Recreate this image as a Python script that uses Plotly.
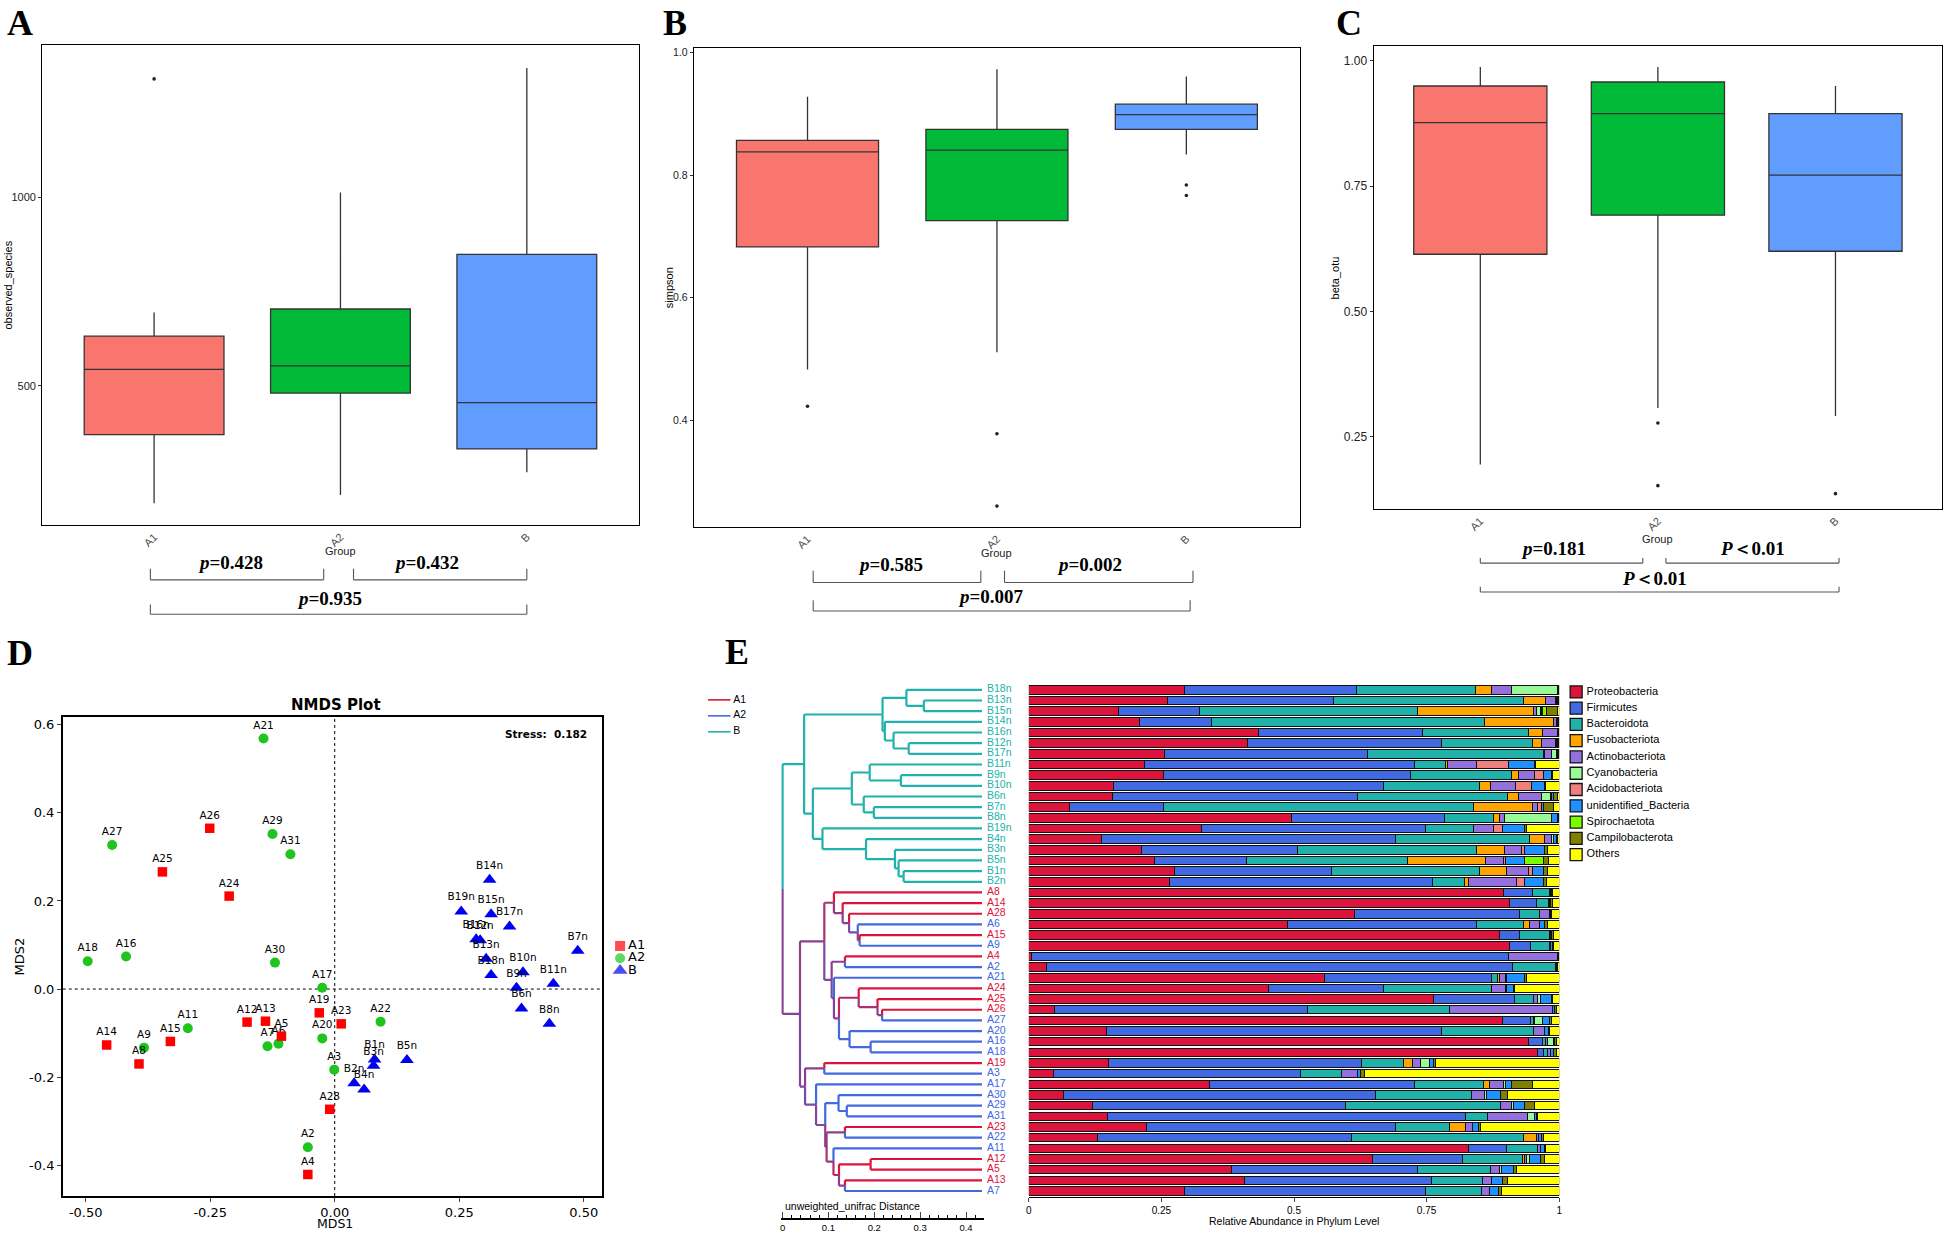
import plotly.graph_objects as go

W, H = 1951, 1233

# ---------------- A / B / C : alpha & beta diversity boxplots ----------------
groups = ["A1", "A2", "B"]
group_fill = ["#F8766D", "#00BA38", "#619CFF"]

obs_q1 = [371, 481, 333]
obs_median = [544, 553, 456]
obs_q3 = [632, 704, 849]
obs_low = [189, 211, 271]
obs_high = [695, 1013, 1343]
obs_out_x = ["A1"]
obs_out_y = [1314]
obs_p = ["p=0.428", "p=0.432", "p=0.935"]

simp_q1 = [0.683, 0.726, 0.875]
simp_median = [0.838, 0.841, 0.899]
simp_q3 = [0.857, 0.875, 0.916]
simp_low = [0.483, 0.511, 0.834]
simp_high = [0.928, 0.973, 0.961]
simp_out_x = ["A1", "A2", "A2", "B", "B"]
simp_out_y = [0.423, 0.378, 0.260, 0.784, 0.767]
simp_p = ["p=0.585", "p=0.002", "p=0.007"]

beta_q1 = [0.614, 0.692, 0.620]
beta_median = [0.877, 0.895, 0.772]
beta_q3 = [0.950, 0.958, 0.895]
beta_low = [0.194, 0.307, 0.291]
beta_high = [0.988, 0.988, 0.950]
beta_out_x = ["A2", "A2", "B"]
beta_out_y = [0.277, 0.152, 0.136]
beta_p = ["p=0.181", "P\uff1c0.01", "P\uff1c0.01"]

# ---------------- D : NMDS ----------------
a1_names = ["A4", "A5", "A8", "A12", "A13", "A14", "A15", "A19", "A23", "A24", "A25", "A26", "A28"]
a1_mds1 = [-0.054, -0.107, -0.393, -0.176, -0.139, -0.458, -0.330, -0.031, 0.013, -0.212, -0.346, -0.251, -0.010]
a1_mds2 = [-0.421, -0.107, -0.170, -0.075, -0.073, -0.127, -0.119, -0.054, -0.079, 0.211, 0.266, 0.365, -0.273]

a2_names = ["A2", "A3", "A6", "A7", "A9", "A11", "A16", "A17", "A18", "A20", "A21", "A22", "A27", "A29", "A30", "A31"]
a2_mds1 = [-0.054, -0.001, -0.113, -0.135, -0.383, -0.295, -0.419, -0.025, -0.496, -0.025, -0.143, 0.092, -0.447, -0.125, -0.120, -0.089]
a2_mds2 = [-0.359, -0.183, -0.124, -0.130, -0.133, -0.089, 0.074, 0.003, 0.063, -0.112, 0.569, -0.074, 0.327, 0.352, 0.060, 0.306]

b_names = ["B1n", "B2n", "B3n", "B4n", "B5n", "B6n", "B7n", "B8n", "B9n", "B10n",
           "B11n", "B12n", "B13n", "B14n", "B15n", "B16n", "B17n", "B18n", "B19n"]
b_mds1 = [0.080, 0.039, 0.078, 0.059, 0.145, 0.375, 0.488, 0.431, 0.365, 0.378,
          0.439, 0.292, 0.304, 0.311, 0.314, 0.284, 0.351, 0.314, 0.254]
b_mds2 = [-0.160, -0.214, -0.174, -0.228, -0.161, -0.044, 0.087, -0.079, 0.003, 0.038,
          0.012, 0.111, 0.069, 0.248, 0.170, 0.113, 0.142, 0.032, 0.176]

# ---------------- E : UPGMA tree + phylum barplot ----------------
sample_order = ["B18n", "B13n", "B15n", "B14n", "B16n", "B12n", "B17n", "B11n", "B9n", "B10n",
                "B6n", "B7n", "B8n", "B19n", "B4n", "B3n", "B5n", "B1n", "B2n",
                "A8", "A14", "A28", "A6", "A15", "A9", "A4", "A2", "A21", "A24", "A25", "A26",
                "A27", "A20", "A16", "A18", "A19", "A3", "A17", "A30", "A29", "A31", "A23",
                "A22", "A11", "A12", "A5", "A13", "A7"]

# (merge distance, upper child, lower child)
tree = (0.0,
        (0.047,
         (0.218,
          (0.270, "B18n", (0.308, "B13n", "B15n")),
          (0.223, "B14n", (0.242, "B16n", (0.275, "B12n", "B17n")))),
         (0.066,
          (0.151,
           (0.190, "B11n", (0.258, "B9n", "B10n")),
           (0.177, "B6n", (0.199, "B7n", "B8n"))),
          (0.087, "B19n", (0.182, "B4n", (0.245, "B3n", (0.253, "B5n", (0.264, "B1n", "B2n"))))))),
        (0.038,
         (0.091,
          (0.112, "A8", (0.131, "A14", (0.145, "A28", (0.164, "A6", (0.168, "A15", "A9"))))),
          (0.107, (0.136, "A4", "A2"),
           (0.112, "A21", (0.123, (0.166, "A24", (0.207, "A25", (0.217, "A26", "A27"))),
                           (0.146, "A20", (0.192, "A16", "A18")))))),
         (0.049,
          (0.091, "A19", "A3"),
          (0.073, "A17", (0.093, (0.122, "A30", (0.140, "A29", "A31")),
                          (0.096, (0.136, "A23", "A22"),
                           (0.111, "A11", (0.123, (0.192, "A12", "A5"), (0.136, "A13", "A7")))))))))
leaf_depth = 0.438

phyla = ["Proteobacteria", "Firmicutes", "Bacteroidota", "Fusobacteriota", "Actinobacteriota",
         "Cyanobacteria", "Acidobacteriota", "unidentified_Bacteria", "Spirochaetota",
         "Campilobacterota", "Others"]
phylum_colors = ["#DC143C", "#4169E1", "#20B2AA", "#FFA500", "#9370DB", "#98FB98",
                 "#F08080", "#1E90FF", "#7CFC00", "#808000", "#FFFF00"]

proteobacteria = [0.293, 0.261, 0.169, 0.208, 0.433, 0.413, 0.256, 0.219, 0.253, 0.160, 0.157, 0.076,
                  0.495, 0.325, 0.137, 0.213, 0.236, 0.274, 0.265, 0.895, 0.906, 0.614, 0.488, 0.888,
                  0.906, 0.005, 0.033, 0.557, 0.451, 0.763, 0.049, 0.893, 0.147, 0.943, 0.959, 0.150,
                  0.046, 0.341, 0.066, 0.120, 0.148, 0.221, 0.130, 0.829, 0.648, 0.382, 0.406, 0.294]
firmicutes = [0.325, 0.313, 0.152, 0.136, 0.310, 0.365, 0.382, 0.509, 0.466, 0.509, 0.462, 0.178,
              0.288, 0.422, 0.554, 0.294, 0.174, 0.297, 0.496, 0.054, 0.051, 0.311, 0.357, 0.038,
              0.039, 0.899, 0.879, 0.316, 0.218, 0.152, 0.476, 0.052, 0.632, 0.026, 0.011, 0.478,
              0.466, 0.387, 0.587, 0.478, 0.676, 0.471, 0.478, 0.072, 0.170, 0.350, 0.354, 0.453]
bacteroidota = [0.224, 0.359, 0.411, 0.515, 0.200, 0.171, 0.332, 0.058, 0.191, 0.181, 0.283, 0.584,
                0.093, 0.092, 0.253, 0.337, 0.304, 0.279, 0.060, 0.032, 0.023, 0.037, 0.087, 0.056,
                0.036, 0.000, 0.081, 0.011, 0.204, 0.036, 0.268, 0.007, 0.172, 0.005, 0.008, 0.078,
                0.078, 0.129, 0.181, 0.292, 0.041, 0.101, 0.324, 0.059, 0.112, 0.139, 0.095, 0.106]
fusobacteriota = [0.031, 0.041, 0.219, 0.131, 0.026, 0.018, 0.003, 0.004, 0.013, 0.020, 0.021, 0.111,
                  0.012, 0.000, 0.028, 0.052, 0.147, 0.051, 0.008, 0.000, 0.000, 0.000, 0.012, 0.000,
                  0.000, 0.000, 0.000, 0.003, 0.000, 0.000, 0.000, 0.000, 0.000, 0.000, 0.000, 0.017,
                  0.000, 0.011, 0.000, 0.000, 0.000, 0.031, 0.026, 0.000, 0.005, 0.000, 0.000, 0.000]
actinobacteriota = [0.038, 0.019, 0.007, 0.004, 0.027, 0.026, 0.012, 0.055, 0.030, 0.047, 0.044, 0.010,
                    0.008, 0.038, 0.013, 0.032, 0.034, 0.042, 0.091, 0.002, 0.001, 0.019, 0.019, 0.002,
                    0.003, 0.092, 0.002, 0.011, 0.025, 0.009, 0.194, 0.002, 0.022, 0.003, 0.006, 0.016,
                    0.030, 0.027, 0.025, 0.021, 0.075, 0.012, 0.003, 0.005, 0.004, 0.017, 0.018, 0.015]
cyanobacteria = [0.085, 0.002, 0.006, 0.001, 0.001, 0.001, 0.010, 0.000, 0.000, 0.000, 0.017, 0.001,
                 0.089, 0.000, 0.004, 0.000, 0.000, 0.000, 0.000, 0.000, 0.000, 0.000, 0.000, 0.000,
                 0.000, 0.000, 0.000, 0.000, 0.002, 0.004, 0.000, 0.014, 0.000, 0.012, 0.000, 0.016,
                 0.000, 0.003, 0.003, 0.003, 0.014, 0.000, 0.000, 0.000, 0.005, 0.004, 0.000, 0.000]
acidobacteriota = [0.001, 0.001, 0.002, 0.001, 0.001, 0.001, 0.001, 0.059, 0.017, 0.031, 0.001, 0.006,
                   0.000, 0.016, 0.001, 0.006, 0.003, 0.006, 0.015, 0.000, 0.000, 0.000, 0.000, 0.000,
                   0.000, 0.000, 0.000, 0.002, 0.000, 0.000, 0.000, 0.000, 0.000, 0.000, 0.000, 0.000,
                   0.000, 0.000, 0.000, 0.000, 0.000, 0.000, 0.000, 0.000, 0.000, 0.000, 0.000, 0.000]
unidentified_bacteria = [0.001, 0.001, 0.002, 0.001, 0.001, 0.002, 0.001, 0.049, 0.015, 0.024, 0.005, 0.004,
                         0.011, 0.041, 0.004, 0.038, 0.037, 0.022, 0.036, 0.002, 0.003, 0.002, 0.009, 0.002,
                         0.003, 0.001, 0.001, 0.035, 0.013, 0.022, 0.005, 0.014, 0.006, 0.003, 0.005, 0.008,
                         0.006, 0.013, 0.028, 0.020, 0.004, 0.011, 0.005, 0.007, 0.021, 0.021, 0.021, 0.017]
spirochaetota = [0.000, 0.000, 0.008, 0.000, 0.000, 0.000, 0.000, 0.000, 0.000, 0.000, 0.000, 0.000,
                 0.000, 0.000, 0.000, 0.000, 0.036, 0.000, 0.000, 0.000, 0.000, 0.000, 0.000, 0.000,
                 0.000, 0.000, 0.000, 0.000, 0.000, 0.000, 0.000, 0.000, 0.000, 0.000, 0.000, 0.000,
                 0.000, 0.000, 0.000, 0.000, 0.000, 0.000, 0.000, 0.000, 0.000, 0.000, 0.000, 0.000]
campilobacterota = [0.001, 0.001, 0.020, 0.001, 0.000, 0.001, 0.001, 0.002, 0.002, 0.002, 0.006, 0.020,
                    0.002, 0.004, 0.003, 0.006, 0.008, 0.006, 0.005, 0.002, 0.004, 0.002, 0.005, 0.003,
                    0.003, 0.001, 0.001, 0.003, 0.002, 0.002, 0.002, 0.003, 0.003, 0.002, 0.005, 0.004,
                    0.006, 0.038, 0.012, 0.019, 0.002, 0.005, 0.004, 0.003, 0.008, 0.006, 0.008, 0.006]
others = [0.001, 0.002, 0.004, 0.002, 0.001, 0.002, 0.002, 0.045, 0.013, 0.026, 0.004, 0.010,
          0.002, 0.062, 0.003, 0.022, 0.021, 0.023, 0.024, 0.013, 0.012, 0.015, 0.023, 0.011,
          0.010, 0.002, 0.003, 0.062, 0.085, 0.012, 0.006, 0.015, 0.018, 0.006, 0.006, 0.233,
          0.368, 0.051, 0.098, 0.047, 0.040, 0.148, 0.030, 0.025, 0.027, 0.081, 0.098, 0.109]
abundance = [proteobacteria, firmicutes, bacteroidota, fusobacteriota, actinobacteriota, cyanobacteria,
             acidobacteriota, unidentified_bacteria, spirochaetota, campilobacterota, others]

tree_rgb = {"A1": (220, 20, 60), "A2": (65, 105, 225), "B": (32, 178, 170)}


# ---------------- helpers ----------------
def fx(p):
    return p / W


def fy(p):
    return 1 - p / H


def ax(n):
    return ("x" if n == 1 else "x%d" % n), ("y" if n == 1 else "y%d" % n)


def axkey(n):
    return ("xaxis" if n == 1 else "xaxis%d" % n), ("yaxis" if n == 1 else "yaxis%d" % n)


fig = go.Figure()
axes = {}
annotations = []
shapes = []
SANS = "Liberation Sans"
SERIF = "Liberation Serif"
DJ = "DejaVu Sans"


def note(text, x, y, size, family=SANS, xanchor="center", angle=0, color="black", xref="paper", yref="paper"):
    annotations.append(dict(text=text, x=fx(x) if xref == "paper" else x, y=fy(y) if yref == "paper" else y,
                            xref=xref, yref=yref, showarrow=False, xanchor=xanchor, yanchor="middle",
                            textangle=angle, font=dict(family=family, size=size, color=color)))


# ---------------- panels A, B, C ----------------
box_panels = [
    dict(n=1, q1=obs_q1, med=obs_median, q3=obs_q3, lo=obs_low, hi=obs_high, ox=obs_out_x, oy=obs_out_y,
         pv=obs_p, title="observed_species", rng=[131, 1404], ticks=[500, 1000], ticktext=["500", "1000"],
         box=(39.4, 637.6, 43, 524), tsize=11, ytitle_x=5.5, group_y=549.6, letter=("A", 2),
         rows=(561.6, 567.6, 578.8, 597.4, 603.4, 613.3),
         brackets=[(-0.02, 0.91), (1.07, 2.0), (-0.02, 2.0)], ptext_x=[0.41, 1.46, 0.94]),
    dict(n=2, q1=simp_q1, med=simp_median, q3=simp_q3, lo=simp_low, hi=simp_high, ox=simp_out_x, oy=simp_out_y,
         pv=simp_p, title="simpson", rng=[0.2256, 1.0078], ticks=[0.4, 0.6, 0.8, 1.0],
         ticktext=["0.4", "0.6", "0.8", "1.0"],
         box=(693, 1301, 46, 526), tsize=10.5, ytitle_x=667.7, group_y=551.7, letter=("B", 660),
         rows=(563.6, 569.6, 581.4, 595.3, 599.3, 610),
         brackets=[(0.03, 0.915), (1.04, 2.035), (0.03, 2.02)], ptext_x=[0.44, 1.49, 0.97]),
    dict(n=3, q1=beta_q1, med=beta_median, q3=beta_q3, lo=beta_low, hi=beta_high, ox=beta_out_x, oy=beta_out_y,
         pv=beta_p, title="beta_otu", rng=[0.105, 1.03], ticks=[0.25, 0.5, 0.75, 1.0],
         ticktext=["0.25", "0.50", "0.75", "1.00"],
         box=(1375, 1945, 44, 508), tsize=12, ytitle_x=1336, group_y=538, letter=("C", 1335),
         rows=(547.6, 557, 562, 577.6, 585.6, 591),
         brackets=[(0.0, 0.915), (1.045, 2.02), (0.0, 2.02)], ptext_x=[0.41, 1.53, 0.98]),
]

for p in box_panels:
    xr, yr = ax(p["n"])
    xk, yk = axkey(p["n"])
    for i, g in enumerate(groups):
        fig.add_trace(go.Box(x=[g], q1=[p["q1"][i]], median=[p["med"][i]], q3=[p["q3"][i]],
                             lowerfence=[p["lo"][i]], upperfence=[p["hi"][i]],
                             fillcolor=group_fill[i], line=dict(color="#333333", width=1.3),
                             width=0.75, whiskerwidth=0, boxpoints=False, hoverinfo="skip",
                             xaxis=xr, yaxis=yr))
    fig.add_trace(go.Scatter(x=p["ox"], y=p["oy"], mode="markers",
                             marker=dict(color="#222222", size=3.6), xaxis=xr, yaxis=yr))
    x0, x1, y0, y1 = p["box"]
    axes[xk] = dict(domain=[fx(x0), fx(x1)], anchor=yr, type="category", categoryorder="array",
                    categoryarray=groups, range=[-0.6, 2.6], tickangle=-45, showgrid=False,
                    showline=True, mirror=True, linecolor="black", linewidth=1.3, ticks="",
                    tickfont=dict(family=SANS, size=11, color="#4D4D4D"))
    axes[yk] = dict(domain=[fy(y1), fy(y0)], anchor=xr, range=p["rng"], tickvals=p["ticks"],
                    ticktext=p["ticktext"], showgrid=False, zeroline=False, showline=True, mirror=True,
                    linecolor="black", linewidth=1.3, ticks="outside", ticklen=3, tickcolor="#333333",
                    tickfont=dict(family=SANS, size=p["tsize"], color="#222222"))
    note(p["title"], p["ytitle_x"], (y0 + y1) / 2, 11, angle=-90)
    note("Group", 1, p["group_y"], 11, xref=xr, color="#222222")
    note("<b>%s</b>" % p["letter"][0], p["letter"][1], 21, 36, family=SERIF, xanchor="left")
    t1, k1, b1, t2, k2, b2 = p["rows"]
    for j, (bx0, bx1) in enumerate(p["brackets"]):
        top, base, ty = (k1, b1, t1) if j < 2 else (k2, b2, t2)
        for seg in [(bx0, base, bx1, base), (bx0, top, bx0, base), (bx1, top, bx1, base)]:
            shapes.append(dict(type="line", xref=xr, yref="paper", x0=seg[0], x1=seg[2],
                               y0=fy(seg[1]), y1=fy(seg[3]), line=dict(color="#555555", width=1.1)))
        lab = p["pv"][j]
        lab = "<i>%s</i>%s" % (lab[0], lab[1:])
        annotations.append(dict(text="<b>%s</b>" % lab, x=p["ptext_x"][j], y=fy(ty), xref=xr, yref="paper",
                                showarrow=False, xanchor="center", yanchor="middle",
                                font=dict(family=SERIF, size=19, color="black")))

# ---------------- panel D : NMDS ----------------
nm_x, nm_y = ax(4)
nm_xk, nm_yk = axkey(4)
nmds_sets = [
    (a2_names, a2_mds1, a2_mds2, "circle", "#1FC41F", 10),
    (a1_names, a1_mds1, a1_mds2, "square", "#FF0000", 9.5),
    (b_names, b_mds1, b_mds2, "triangle-up", "#0000F0", 12),
]
for names, mx, my, sym, col, size in nmds_sets:
    fig.add_trace(go.Scatter(x=mx, y=my, text=names, mode="markers+text", textposition="top center",
                             textfont=dict(family=DJ, size=10.5, color="black"),
                             marker=dict(symbol=sym, color=col, size=size, line=dict(width=0)),
                             cliponaxis=False, xaxis=nm_x, yaxis=nm_y))
axes[nm_xk] = dict(domain=[fx(60), fx(601)], anchor=nm_y, range=[-0.546, 0.537],
                   tickvals=[-0.5, -0.25, 0, 0.25, 0.5], ticktext=["-0.50", "-0.25", "0.00", "0.25", "0.50"],
                   showgrid=False, zeroline=False, showline=True, mirror=True, linecolor="black", linewidth=1.6,
                   ticks="outside", ticklen=4, tickwidth=1.2, tickfont=dict(family=DJ, size=13, color="black"))
axes[nm_yk] = dict(domain=[fy(1196), fy(716)], anchor=nm_x, range=[-0.47, 0.618],
                   tickvals=[-0.4, -0.2, 0, 0.2, 0.4, 0.6], ticktext=["-0.4", "-0.2", "0.0", "0.2", "0.4", "0.6"],
                   showgrid=False, zeroline=False, showline=True, mirror=True, linecolor="black", linewidth=1.6,
                   ticks="outside", ticklen=4, tickwidth=1.2, tickfont=dict(family=DJ, size=13, color="black"))
shapes.append(dict(type="line", xref=nm_x, yref=nm_y + " domain", x0=0, x1=0, y0=0, y1=1,
                   line=dict(color="black", width=1, dash="dot"), layer="below"))
shapes.append(dict(type="line", xref=nm_x + " domain", yref=nm_y, x0=0, x1=1, y0=0, y1=0,
                   line=dict(color="black", width=1, dash="dot"), layer="below"))
note("<b>NMDS Plot</b>", 333.6, 704, 15, family=DJ)
note("<b>Stress:  0.182</b>", 545, 733, 10.5, family=DJ)
note("MDS1", 333, 1223, 12.5, family=DJ)
note("MDS2", 16, 956, 13, family=DJ, angle=-90)
note("<b>D</b>", 2, 652, 36, family=SERIF, xanchor="left")

# ---------------- panel E : dendrogram ----------------
dx, dy = ax(6)
dxk, dyk = axkey(6)
row_of = {s: i for i, s in enumerate(sample_order)}
seg_by_color = {}


def group_of(name):
    if name in a1_names:
        return "A1"
    if name in a2_names:
        return "A2"
    return "B"


def add_seg(rgb, xs, ys):
    key = "rgb(%d,%d,%d)" % tuple(int(round(v)) for v in rgb)
    px, py = seg_by_color.setdefault(key, ([], []))
    px += xs + [None]
    py += ys + [None]


def walk(node):
    if isinstance(node, str):
        return row_of[node], leaf_depth, tree_rgb[group_of(node)], 1
    d, up, low = node
    y1, d1, c1, n1 = walk(up)
    y2, d2, c2, n2 = walk(low)
    ym = (y1 + y2) / 2
    add_seg(c1, [d, d1], [y1, y1])
    add_seg(c2, [d, d2], [y2, y2])
    add_seg(c1, [d, d], [y1, ym])
    add_seg(c2, [d, d], [ym, y2])
    mix = tuple((a * n1 + b * n2) / (n1 + n2) for a, b in zip(c1, c2))
    return ym, d, mix, n1 + n2


walk(tree)
for col, (px, py) in seg_by_color.items():
    fig.add_trace(go.Scatter(x=px, y=py, mode="lines", line=dict(color=col, width=2.2),
                             hoverinfo="skip", xaxis=dx, yaxis=dy))
row_range = [47.55, -0.55]
axes[dxk] = dict(domain=[fx(780.6), fx(984.4)], anchor="free", position=fy(1218.5), range=[-0.003, 0.44],
                 tickmode="linear", tick0=0, dtick=0.1, showgrid=False, zeroline=False, showline=True,
                 linecolor="black", linewidth=1.5, ticks="inside", ticklen=6, tickwidth=1.2,
                 minor=dict(ticks="inside", tickmode="linear", tick0=0, dtick=0.02, ticklen=3, tickcolor="black"),
                 tickfont=dict(family=SANS, size=9.5, color="black"))
axes[dyk] = dict(domain=[fy(1196.8), fy(683.1)], anchor=dx, range=row_range, visible=False)

# leaf labels on their own narrow x axis, sharing the tree rows
lx, _ = ax(10)
lxk, _ = axkey(10)
label_colors = ["rgb(%d,%d,%d)" % tree_rgb[group_of(s)] for s in sample_order]
fig.add_trace(go.Scatter(x=[0] * len(sample_order), y=list(range(len(sample_order))),
                         text=sample_order, mode="text", textposition="middle right",
                         textfont=dict(family=SANS, size=10.5, color=label_colors),
                         cliponaxis=False, hoverinfo="skip", xaxis=lx, yaxis=dy))
axes[lxk] = dict(domain=[fx(982), fx(992)], anchor=dy, range=[-1, 1], visible=False)

note("unweighted_unifrac Distance", 782, 1206, 10.5, xanchor="left")
note("<b>E</b>", 722, 651, 36, family=SERIF, xanchor="left")

# ---------------- panel E : stacked phylum bars ----------------
bx, by = ax(7)
bxk, byk = axkey(7)
rows = list(range(len(sample_order)))
for name, col, vals in zip(phyla, phylum_colors, abundance):
    fig.add_trace(go.Bar(x=vals, y=rows, orientation="h", name=name, width=0.8,
                         marker=dict(color=col, line=dict(color="#111111", width=1)),
                         hoverinfo="skip", xaxis=bx, yaxis=by))
axes[bxk] = dict(domain=[fx(1029), fx(1561)], anchor=by, range=[0, 1], tickvals=[0, 0.25, 0.5, 0.75, 1],
                 ticktext=["0", "0.25", "0.5", "0.75", "1"], showgrid=False, zeroline=False, showline=True,
                 linecolor="black", linewidth=1, ticks="outside", ticklen=4,
                 tickfont=dict(family=SANS, size=10, color="black"))
axes[byk] = dict(domain=[fy(1196.8), fy(683.1)], anchor=bx, range=row_range, visible=False)
note("Relative Abundance in Phylum Level", 1295, 1221, 10.5)


# ---------------- keys ----------------
def add_key(n, names, cx, cy0, step, text_dx, marker, font):
    xr, yr = ax(n)
    xk, yk = axkey(n)
    k = len(names)
    axes[xk] = dict(domain=[fx(cx - 5), fx(cx + text_dx + 5)], anchor=yr,
                    range=[-1, (text_dx + 5) / 5.0], visible=False)
    axes[yk] = dict(domain=[fy(cy0 + step * (k - 0.5)), fy(cy0 - step / 2)], anchor=xr, type="category",
                    categoryorder="array", categoryarray=names, range=[k - 0.5, -0.5], visible=False)
    fig.add_trace(go.Scatter(x=[0] * k, y=names, mode="markers", marker=marker, cliponaxis=False,
                             hoverinfo="skip", xaxis=xr, yaxis=yr))
    fig.add_trace(go.Scatter(x=[text_dx / 5.0] * k, y=names, text=names, mode="text",
                             textposition="middle right", textfont=font, cliponaxis=False,
                             hoverinfo="skip", xaxis=xr, yaxis=yr))


add_key(5, groups, 619, 945.5, 12.3, 8,
        dict(symbol=["square", "circle", "triangle-up"], color=["#FF0000", "#1FC41F", "#0000F0"],
             size=[10, 10, 13], line=dict(width=0)),
        dict(family=DJ, size=13, color="black"))
add_key(8, phyla, 1578, 691, 16.3, 10.5,
        dict(symbol="square", color=phylum_colors, size=12, line=dict(color="#111111", width=1.3)),
        dict(family=SANS, size=11, color="black"))
add_key(9, groups, 718.5, 699, 16, 14,
        dict(symbol="line-ew", size=16, color="rgba(0,0,0,0)",
             line=dict(color=["rgb(%d,%d,%d)" % tree_rgb[g] for g in groups], width=1.6)),
        dict(family=SANS, size=10.5, color="black"))

fig.update_layout(width=W, height=H, margin=dict(l=0, r=0, t=0, b=0), plot_bgcolor="white",
                  paper_bgcolor="white", showlegend=False, boxmode="overlay", barmode="stack",
                  font=dict(family=SANS), annotations=annotations, shapes=shapes, **axes)

# the page's default 8px body margin would push the figure off the window
fig.write_html("out.html", config={"displayModeBar": False},
               post_script="document.body.style.margin='0px';document.body.style.overflow='hidden';")
